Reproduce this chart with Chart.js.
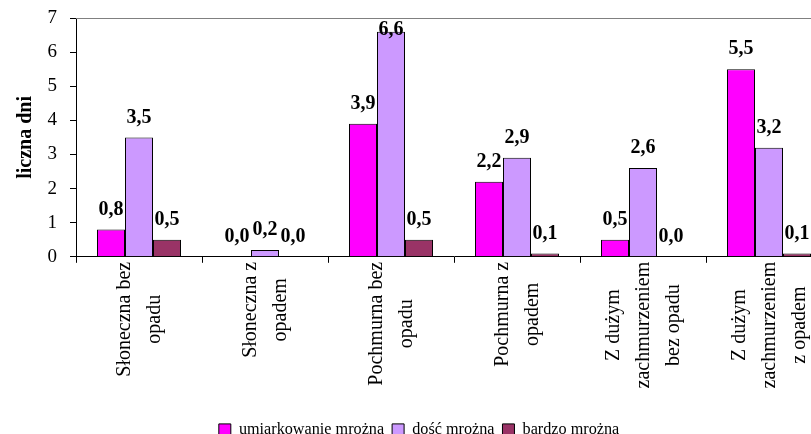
<!DOCTYPE html>
<html>
<head>
<meta charset="utf-8">
<script src="https://cdn.jsdelivr.net/npm/chart.js@4/dist/chart.umd.min.js"></script>
<style>
  html, body { margin: 0; padding: 0; background: #fff; overflow: hidden; }
  #wrap { width: 811px; height: 434px; overflow: hidden; position: relative; }
  canvas { display: block; }
</style>
</head>
<body>
<div id="wrap"><canvas id="c" width="840" height="448"></canvas></div>
<script>
// Weather-type categories (multi-line labels)
const categories = [
  ["Słoneczna bez", "opadu"],
  ["Słoneczna z", "opadem"],
  ["Pochmurna bez", "opadu"],
  ["Pochmurna z", "opadem"],
  ["Z dużym", "zachmurzeniem", "bez opadu"],
  ["Z dużym", "zachmurzeniem", "z opadem"]
];
const seriesNames = ["umiarkowanie mrożna", "dość mrożna", "bardzo mrożna"];
const umiarkowanie = [0.8, 0.0, 3.9, 2.2, 0.5, 5.5];
const dosc = [3.5, 0.2, 6.6, 2.9, 2.6, 3.2];
const bardzo = [0.5, 0.0, 0.5, 0.1, 0.0, 0.1];
const yTicks = [0, 1, 2, 3, 4, 5, 6, 7];

const SERIF = "'Liberation Serif', 'Times New Roman', serif";

// Value labels above each bar, kept inside the plot area
const valueLabels = {
  id: 'valueLabels',
  afterDatasetsDraw(chart) {
    const ctx = chart.ctx;
    const top = chart.chartArea.top;
    ctx.save();
    ctx.font = "bold 20px " + SERIF;
    ctx.fillStyle = '#000';
    ctx.textAlign = 'center';
    ctx.textBaseline = 'middle';
    chart.data.datasets.forEach((ds, di) => {
      const meta = chart.getDatasetMeta(di);
      meta.data.forEach((bar, i) => {
        const txt = ds.data[i].toFixed(1).replace('.', ',');
        const y = Math.max(bar.y - 20, top + 12);
        ctx.fillText(txt, bar.x, y);
      });
    });
    ctx.restore();
  }
};

// Category labels rotated 90°, lines centred on each other, hanging below the axis
const categoryLabels = {
  id: 'categoryLabels',
  afterDraw(chart) {
    const ctx = chart.ctx;
    const xs = chart.scales.x;
    const lineGap = 30;
    ctx.save();
    ctx.font = "20px " + SERIF;
    ctx.fillStyle = '#000';
    ctx.textAlign = 'center';
    ctx.textBaseline = 'middle';
    chart.data.labels.forEach((lines, i) => {
      const cx = xs.getPixelForValue(i);
      const maxW = Math.max(...lines.map(l => ctx.measureText(l).width));
      const cy = xs.top + 5 + maxW / 2;
      lines.forEach((line, j) => {
        const x = cx + (j - (lines.length - 1) / 2) * lineGap;
        ctx.save();
        ctx.translate(x, cy);
        ctx.rotate(-Math.PI / 2);
        ctx.fillText(line, 0, 1);
        ctx.restore();
      });
    });
    ctx.restore();
  }
};

// Thin frame line along the top and right of the plot area
const plotFrame = {
  id: 'plotFrame',
  beforeDatasetsDraw(chart) {
    const {ctx, chartArea: a} = chart;
    ctx.save();
    ctx.strokeStyle = '#808080';
    ctx.lineWidth = 1;
    ctx.beginPath();
    ctx.moveTo(a.left, a.top + 0.5);
    ctx.lineTo(a.right, a.top + 0.5);
    ctx.lineTo(a.right, a.bottom);
    ctx.stroke();
    ctx.restore();
  }
};

const colors = ['#FF00FF', '#CC99FF', '#993366'];
const values = [umiarkowanie, dosc, bardzo];

new Chart(document.getElementById('c'), {
  type: 'bar',
  data: {
    labels: categories,
    datasets: values.map((v, k) => ({
      label: seriesNames[k],
      data: v,
      backgroundColor: colors[k],
      borderColor: '#000',
      borderWidth: 1,
      barPercentage: 1.0,
      categoryPercentage: 0.667
    }))
  },
  options: {
    responsive: false,
    animation: false,
    devicePixelRatio: 1,
    layout: { padding: { top: 18, left: 6, right: 8, bottom: 0 } },
    plugins: {
      legend: {
        position: 'bottom',
        labels: {
          boxWidth: 12,
          boxHeight: 12,
          padding: 8,
          color: '#000',
          font: { family: SERIF, size: 16.2 }
        }
      },
      tooltip: { enabled: false }
    },
    scales: {
      x: {
        offset: true,
        grid: {
          offset: true,
          drawOnChartArea: false,
          drawTicks: true,
          tickLength: 6,
          color: '#000'
        },
        border: { color: '#000', width: 1 },
        ticks: { display: false },
        afterFit(scale) { scale.height = 157; }
      },
      y: {
        min: 0,
        max: 7,
        afterBuildTicks(scale) { scale.ticks = yTicks.map(v => ({ value: v })); },
        grid: {
          drawOnChartArea: false,
          drawTicks: true,
          tickLength: 6,
          color: '#000'
        },
        border: { color: '#000', width: 1 },
        ticks: {
          color: '#000',
          padding: 13,
          font: { family: SERIF, size: 19 }
        },
        title: {
          display: true,
          text: 'liczna dni',
          color: '#000',
          padding: { top: 8, bottom: 0 },
          font: { family: SERIF, size: 20, weight: 'bold' }
        },
        afterFit(scale) {
          scale.width = 70;
          scale.paddingTop = 0;
          scale.paddingBottom = 0;
        }
      }
    }
  },
  plugins: [plotFrame, valueLabels, categoryLabels]
});
</script>
</body>
</html>
